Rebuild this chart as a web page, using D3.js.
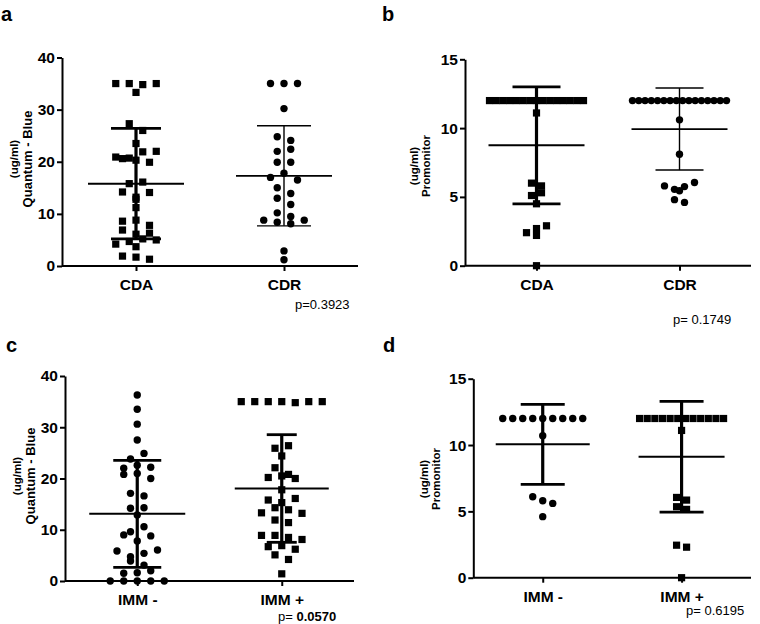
<!DOCTYPE html>
<html>
<head>
<meta charset="utf-8">
<script src="https://cdn.jsdelivr.net/npm/d3@7"></script>
<style>
  body { margin: 0; background: #fff; }
  text { font-family: "Liberation Sans", Arial, sans-serif; fill: #000; }
</style>
</head>
<body>
<svg id="fig" width="760" height="624"></svg>
<script>

// ---- data ----
var groupsCD = ["CDA", "CDR"];
var groupsIMM = ["IMM -", "IMM +"];
var ticks40 = [0, 10, 20, 30, 40];
var ticks15 = [0, 5, 10, 15];

// a: Quantum - Blue (ug/ml)
var quantumCDA = [35, 35, 33.3, 34.8, 35, 27.3, 26.0, 23.5, 20.6, 20.9, 20.3, 20.7, 19.9, 21.9, 22.0,
    15.8, 16.1, 14.2, 13.2, 12.8, 14.1, 11.2, 8.6, 8.8, 6.9, 6.1, 6.3, 7.8, 4.2, 3.7, 4.7, 5.2, 5.0,
    1.9, 1.7, 1.3];
var quantumCDR = [35, 35, 35, 30.2, 24.8, 24.1, 22.0, 22.4, 19.9, 19.9, 17.0, 17.8, 16.5, 15.0,
    13.0, 13.9, 11.8, 8.8, 8.4, 8.1, 8.8, 10.2, 9.5, 2.9, 1.2];
var quantumCDMean = [15.8, 17.3];
var quantumCDSd = [10.6, 9.6];

// b: Promonitor (ug/ml)
var promoCDA = [12, 12, 12, 12, 12, 12, 12, 12, 12, 12, 12, 12, 12, 12, 12,
    11.1, 5.1, 5.3, 6.0, 5.8, 4.5, 2.4, 2.2, 2.7, 2.9, 0];
var promoCDR = [12, 12, 12, 12, 12, 12, 12, 12, 12, 12, 12, 12, 12, 12, 12, 12,
    10.6, 8.1, 5.8, 5.55, 5.45, 5.75, 6.05, 4.8, 4.6];
var promoCDMean = [8.75, 9.93];
var promoCDSd = [4.25, 2.98];

// c: Quantum - Blue by IMM
var quantumImmNeg = [36.3, 33.5, 30.6, 27.5, 23.8, 24.9, 20.8, 22.0, 22.6, 21.0, 22.2, 20.0,
    17.1, 16.6, 14.2, 14.3, 12.9, 9.6, 9.0, 10.6, 7.8, 8.8, 5.85, 4.75, 5.4, 3.9, 6.05, 3.1,
    1.5, 1.6, 2.0, 0, 0, 0, 0, 0];
var quantumImmPos = [35, 35, 35, 35, 34.8, 35, 35, 25.9, 24.4, 26.4, 22.1, 20.8, 20.2, 20.5, 20.0,
    17.8, 15.8, 15.3, 16.1, 13.3, 11.9, 14.3, 11.4, 13.9, 13.2, 6.7, 6.9, 6.2, 8.9, 5.1, 8.9,
    4.2, 8.5, 8.1, 1.4];
var quantumImmMean = [13.1, 18.05];
var quantumImmSd = [10.45, 10.5];

// d: Promonitor by IMM
var promoImmNeg = [12, 12, 12, 12, 12, 12, 12, 12, 12, 10.7, 6.1, 5.8, 5.6, 4.6];
var promoImmPos = [12, 12, 12, 12, 12, 12, 12, 12, 12, 12, 12, 12,
    11.1, 5.35, 6.05, 5.15, 5.85, 2.45, 2.3, 0];
var promoImmMean = [10.05, 9.12];
var promoImmSd = [3.02, 4.17];

var pTexts = ["p=0.3923", "p= 0.1749", "0.0570", "p= 0.6195"];

// ---- layout ----
var thick = { v: 3.2, cap: 2.8, mean: 2 },
    thin = { v: 1.4, cap: 1.4, mean: 1.8 };

var panels = [
    { letter: "a", lx: 1, ly: 21, x0: 62, x1: 358, yTop: 57.5, yBot: 266, max: 40, ticks: ticks40,
      cats: groupsCD, values: [quantumCDA, quantumCDR], mean: quantumCDMean, sd: quantumCDSd,
      shapes: ["square", "circle"], lines: [thick, thin], cap: [25, 27], half: [48, 48],
      step: 13.5, maxW: 94, title: ["(ug/ml)", "Quantum - Blue"], tsize: [11.5, 13],
      tx: [14, 27], ty: 159, p: pTexts[0], px: 295, py: 309 },
    { letter: "b", lx: 382, ly: 21, x0: 465, x1: 751, yTop: 59.3, yBot: 265.7, max: 15, ticks: ticks15,
      cats: groupsCD, values: [promoCDA, promoCDR], mean: promoCDMean, sd: promoCDSd,
      shapes: ["square", "circle"], lines: [thick, thin], cap: [24, 24], half: [48, 48],
      step: 10, maxW: 94, title: ["(ug/ml)", "Promonitor"], tsize: [11.5, 11.5],
      tx: [414, 426], ty: 166, p: pTexts[1], px: 673, py: 324 },
    { letter: "c", lx: 6, ly: 352, x0: 65, x1: 354, yTop: 376, yBot: 581, max: 40, ticks: ticks40,
      cats: groupsIMM, values: [quantumImmNeg, quantumImmPos], mean: quantumImmMean, sd: quantumImmSd,
      shapes: ["circle", "square"], lines: [thick, thick], cap: [24, 15], half: [48, 47],
      step: 13.5, maxW: 94, title: ["(ug/ml)", "Quantum - Blue"], tsize: [11.5, 13],
      tx: [17, 30], ty: 476, p: pTexts[2], px: 278, py: 621 },
    { letter: "d", lx: 383, ly: 352, x0: 473.3, x1: 751, yTop: 378.7, yBot: 577.7, max: 15, ticks: ticks15,
      cats: groupsIMM, values: [promoImmNeg, promoImmPos], mean: promoImmMean, sd: promoImmSd,
      shapes: ["circle", "square"], lines: [thick, thick], cap: [22, 22], half: [47, 43],
      step: 10, maxW: 84, title: ["(ug/ml)", "Promonitor"], tsize: [11.5, 11.5],
      tx: [424, 436], ty: 479, p: pTexts[3], px: 686, py: 615 }
];

var svg = d3.select("#fig");
svg.append("rect").attr("width", 760).attr("height", 624).attr("fill", "#fff");

// rows of points closer than the marker size are spread side by side
function swarm(values, y, step, maxW, thresh) {
    var order = d3.range(values.length).sort(function (i, j) { return values[j] - values[i] || i - j; });
    var rows = [], row = null;
    order.forEach(function (i) {
        if (row && y(values[i]) - y(values[row[0]]) < thresh) row.push(i);
        else { row = [i]; rows.push(row); }
    });
    var off = [];
    rows.forEach(function (r) {
        r.sort(d3.ascending);
        var n = r.length;
        var s = n > 1 ? Math.min(step, maxW / (n - 1)) : 0;
        r.forEach(function (i, k) { off[i] = (k - (n - 1) / 2) * s; });
    });
    return off;
}

function drawPanel(p) {
    var g = svg.append("g");
    var x = d3.scalePoint().domain(p.cats).range([p.x0, p.x1]).padding(0.5);
    var y = d3.scaleLinear().domain([0, p.max]).range([p.yBot, p.yTop]);

    // points
    p.values.forEach(function (vals, si) {
        var off = swarm(vals, y, p.step, p.maxW, 7);
        var cx = x(p.cats[si]);
        var pts = g.append("g");
        if (p.shapes[si] == "square") {
            pts.selectAll("rect").data(vals).enter().append("rect")
                .attr("x", function (d, i) { return cx + off[i] - 3.6; })
                .attr("y", function (d) { return y(d) - 3.6; })
                .attr("width", 7.2).attr("height", 7.2)
                .attr("fill", "#000");
        } else {
            pts.selectAll("circle").data(vals).enter().append("circle")
                .attr("cx", function (d, i) { return cx + off[i]; })
                .attr("cy", function (d) { return y(d); })
                .attr("r", 3.7)
                .attr("fill", "#000");
        }
    });

    // mean and SD
    p.cats.forEach(function (c, si) {
        var cx = x(c), m = p.mean[si], s = p.sd[si], lw = p.lines[si];
        var hi = y(m + s), lo = y(m - s);
        g.append("line").attr("x1", cx).attr("x2", cx).attr("y1", hi).attr("y2", lo)
            .attr("stroke", "#000").attr("stroke-width", lw.v);
        [hi, lo].forEach(function (yy) {
            g.append("line").attr("x1", cx - p.cap[si]).attr("x2", cx + p.cap[si])
                .attr("y1", yy).attr("y2", yy)
                .attr("stroke", "#000").attr("stroke-width", lw.cap);
        });
        g.append("line").attr("x1", cx - p.half[si]).attr("x2", cx + p.half[si])
            .attr("y1", y(m)).attr("y2", y(m))
            .attr("stroke", "#000").attr("stroke-width", lw.mean);
    });

    // axes
    var yAxis = d3.axisLeft(y).tickValues(p.ticks).tickSize(5).tickSizeOuter(0).tickPadding(2);
    var xAxis = d3.axisBottom(x).tickSize(5).tickSizeOuter(0).tickPadding(8);

    var ya = g.append("g").attr("transform", "translate(" + p.x0 + ",0)").call(yAxis);
    var xa = g.append("g").attr("transform", "translate(0," + p.yBot + ")").call(xAxis);
    [ya, xa].forEach(function (a) {
        a.selectAll("path, line").attr("stroke", "#000").attr("stroke-width", 2);
        a.selectAll("text").attr("fill", "#000").style("font-size", "15.5px").style("font-weight", "bold")
            .style("font-family", "'Liberation Sans', Arial, sans-serif");
    });
    xa.select(".domain").attr("d", "M" + p.x0 + ",0H" + p.x1);

    // axis title, two lines rotated
    p.title.forEach(function (t, k) {
        g.append("text")
            .attr("transform", "translate(" + p.tx[k] + "," + p.ty + ") rotate(-90)")
            .attr("text-anchor", "middle").attr("dominant-baseline", "central")
            .style("font-size", p.tsize[k] + "px").style("font-weight", "bold")
            .text(t);
    });

    // panel letter
    g.append("text").attr("x", p.lx).attr("y", p.ly)
        .style("font-size", "20px").style("font-weight", "bold").text(p.letter);

    // p value
    var pt = g.append("text").attr("x", p.px).attr("y", p.py).style("font-size", "13px");
    if (p.letter == "c") {
        pt.append("tspan").text("p= ");
        pt.append("tspan").style("font-weight", "bold").text(p.p);
    } else {
        pt.text(p.p);
    }
}

panels.forEach(drawPanel);

</script>
</body>
</html>
